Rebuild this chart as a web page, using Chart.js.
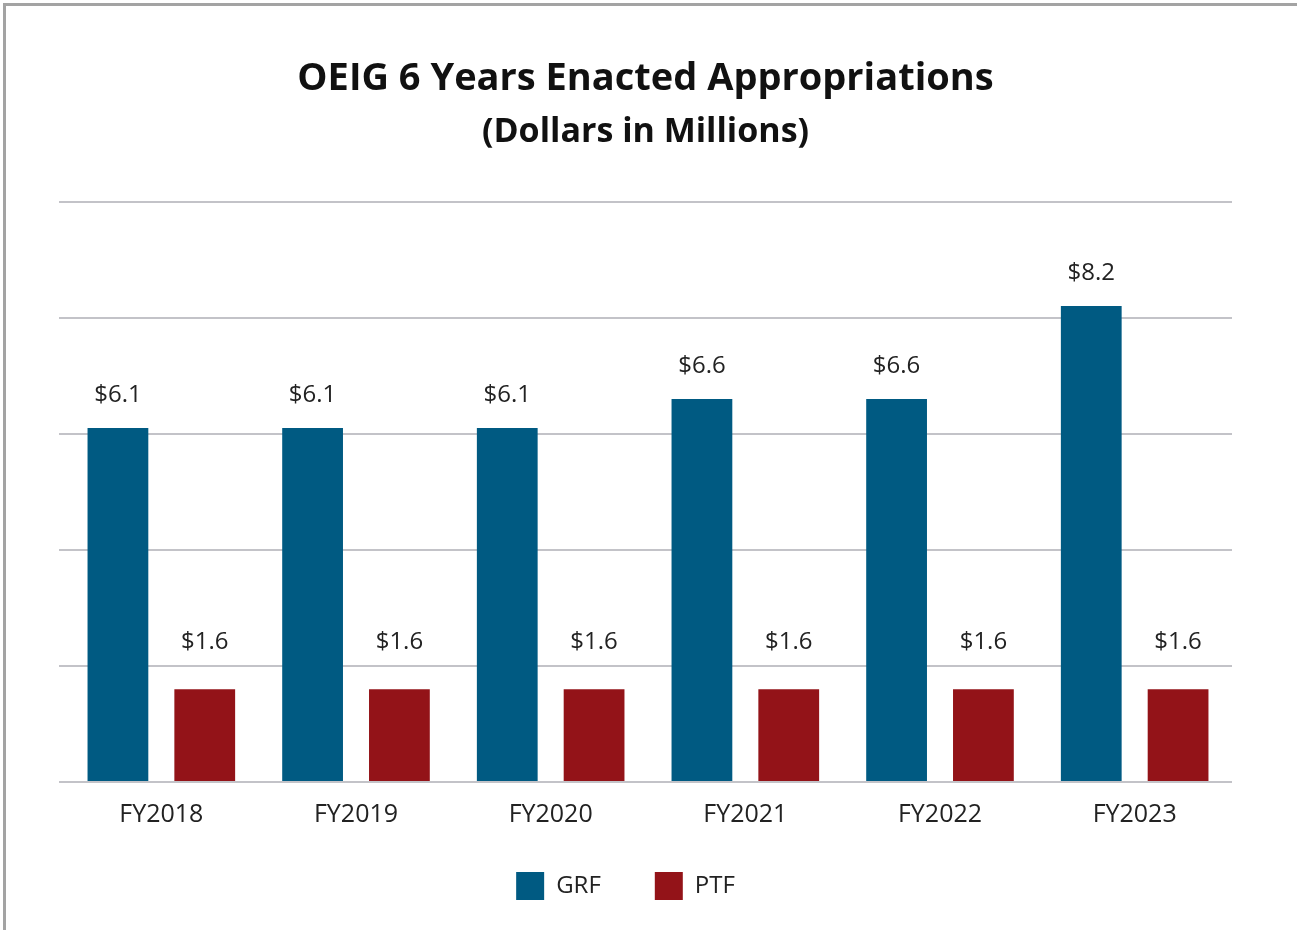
<!DOCTYPE html>
<html lang="en">
<head>
  <meta charset="UTF-8">
  <title>OEIG 6 Years Enacted Appropriations</title>
  <style>
    body {
      margin: 0;
      padding: 0;
      background: #fff;
      font-family: 'Open Sans', sans-serif;
    }
    .frame {
      position: absolute;
      left: 3px;
      top: 3px;
      width: 1400px;
      height: 1000px;
      border-top: 3px solid #a3a3a3;
      border-left: 3px solid #a3a3a3;
      pointer-events: none;
    }
    .chart-container {
      position: absolute;
      left: 0;
      top: 0;
      width: 1297px;
      height: 930px;
    }
  </style>
</head>
<body>
  <div class="chart-container">
    <canvas id="barChart"></canvas>
  </div>
  <div class="frame"></div>

  <script src="https://cdn.jsdelivr.net/npm/chart.js"></script>
  <script>
    const years = ['FY2018', 'FY2019', 'FY2020', 'FY2021', 'FY2022', 'FY2023'];
    const grfValues = [6.1, 6.1, 6.1, 6.6, 6.6, 8.2];
    const ptfValues = [1.6, 1.6, 1.6, 1.6, 1.6, 1.6];
    const seriesNames = ['GRF', 'PTF'];

    // écart étiquette / haut de barre, par série
    const labelOffsets = [33, 47];

    // étiquettes "$x.x" au-dessus des barres
    const valueLabels = {
      id: 'valueLabels',
      afterDatasetsDraw(chart) {
        const ctx = chart.ctx;
        ctx.save();
        ctx.font = '24px "Open Sans"';
        ctx.fillStyle = '#222';
        ctx.textAlign = 'center';
        ctx.textBaseline = 'middle';
        chart.data.datasets.forEach((ds, i) => {
          chart.getDatasetMeta(i).data.forEach((bar, j) => {
            ctx.fillText('$' + ds.data[j].toFixed(1), bar.x, bar.y - labelOffsets[i]);
          });
        });
        ctx.restore();
      }
    };

    // décale un peu la légende (gauche / haut), comme l'original
    const legendShift = {
      id: 'legendShift',
      afterLayout(chart) {
        const lg = chart.legend;
        lg.left -= 20;
        lg.right -= 20;
        lg.top -= 12;
        lg.bottom -= 12;
      }
    };

    const ctx = document.getElementById('barChart').getContext('2d');
    new Chart(ctx, {
      type: 'bar',
      data: {
        labels: years,
        datasets: [
          {
            label: seriesNames[0],
            data: grfValues,
            backgroundColor: '#005A82',
            categoryPercentage: 0.892,
            barPercentage: 0.70
          },
          {
            label: seriesNames[1],
            data: ptfValues,
            backgroundColor: '#931318',
            categoryPercentage: 0.892,
            barPercentage: 0.70
          }
        ]
      },
      options: {
        responsive: true,
        maintainAspectRatio: false,
        animation: false,
        layout: {
          padding: { left: 59, right: 65, top: 0, bottom: 8 }
        },
        scales: {
          x: {
            grid: { display: false, drawTicks: false },
            border: { display: false },
            ticks: {
              color: '#222',
              padding: 18,
              font: { family: 'Open Sans', size: 25 }
            },
            afterFit(scale) {
              scale.height = 48; // padding + une ligne de texte
            }
          },
          y: {
            min: 0,
            max: 10,
            border: { display: false },
            grid: {
              color: '#c3c3c8',
              lineWidth: 2,
              drawTicks: true,
              tickLength: 5
            },
            ticks: { display: false, stepSize: 2 }
          }
        },
        plugins: {
          title: {
            display: true,
            text: 'OEIG 6 Years Enacted Appropriations',
            color: '#111',
            font: { family: 'Open Sans', size: 38, weight: 'bold', lineHeight: 1.2 },
            padding: { top: 56, bottom: 8 }
          },
          subtitle: {
            display: true,
            text: '(Dollars in Millions)',
            color: '#111',
            font: { family: 'Open Sans', size: 34, weight: 'bold', lineHeight: 1.2 },
            padding: { top: 2, bottom: 49.2 }
          },
          legend: {
            position: 'bottom',
            labels: {
              color: '#222',
              boxWidth: 28,
              boxHeight: 28,
              padding: 54,
              font: { family: 'Open Sans', size: 24 }
            }
          },
          tooltip: { enabled: false }
        }
      },
      plugins: [valueLabels, legendShift]
    });
  </script>
</body>
</html>
